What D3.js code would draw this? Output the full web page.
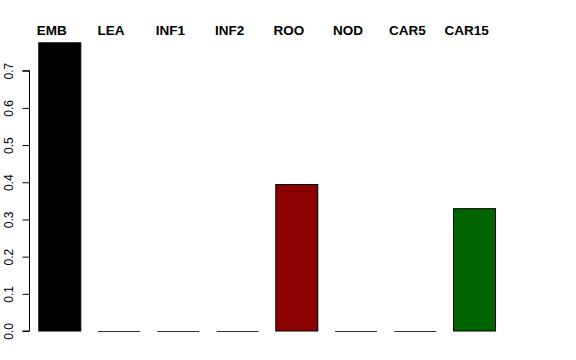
<!DOCTYPE html>
<html><head><meta charset="utf-8">
<script src="https://cdn.jsdelivr.net/npm/d3@7"></script>
<style>body{margin:0;background:#fff}svg{display:block}</style>
</head><body><svg id="c" width="576" height="360"></svg>
<script>
const categories = ["EMB","LEA","INF1","INF2","ROO","NOD","CAR5","CAR15"];
const values = [0.775, 0, 0, 0, 0.394, 0, 0, 0.329];
const colors = ["#000000","#000000","#000000","#000000","#8B0000","#000000","#000000","#006400"];
const yTicks = [0, 0.1, 0.2, 0.3, 0.4, 0.5, 0.6, 0.7];

const svg = d3.select("#c");
const x = d3.scaleBand().domain(categories).range([38.3 - 17.25/2, 38.3 - 17.25/2 + 8*59.25]).paddingInner(17.25/59.25).paddingOuter(17.25/59.25/2);
const y = d3.scaleLinear().domain([0, 0.7]).range([331, 70.7]);

const bars = svg.append("g");
bars.selectAll("rect").data(categories.filter((d,i) => values[i] > 0)).join("rect")
  .attr("x", d => x(d) + 0.5)
  .attr("y", d => y(values[categories.indexOf(d)]))
  .attr("width", x.bandwidth())
  .attr("height", d => y(0) - y(values[categories.indexOf(d)]))
  .attr("fill", d => colors[categories.indexOf(d)])
  .attr("stroke", "#000").attr("stroke-width", 1);
bars.selectAll("line").data(categories.filter((d,i) => values[i] === 0)).join("line")
  .attr("x1", d => x(d) + 0.5).attr("x2", d => x(d) + 0.5 + x.bandwidth())
  .attr("y1", y(0) + 0.5).attr("y2", y(0) + 0.5)
  .attr("stroke", "#333").attr("stroke-width", 1);

const ax = d3.axisLeft(y).tickValues(yTicks).tickSize(7).tickFormat(d3.format(".1f"));
const g = svg.append("g").attr("transform", "translate(29.5,0)").call(ax);
g.select(".domain").attr("d", `M-7,${y(0)}H0V${y(0.7)}H-7`).attr("stroke","#000");
g.selectAll(".tick line").attr("stroke","#000");
g.selectAll(".tick text")
  .attr("font-family","Liberation Sans, Arial, sans-serif").attr("font-size", 12).attr("fill","#000")
  .attr("transform", "rotate(-90)").attr("x", 0).attr("y", -16.5).attr("dy", 0)
  .attr("text-anchor","middle");

svg.append("g").selectAll("text").data(categories).join("text")
  .attr("x", d => x(d) + x.bandwidth()/2 - 7.5)
  .attr("y", 34.5)
  .attr("text-anchor","middle")
  .attr("font-family","Liberation Sans, Arial, sans-serif").attr("font-weight","bold").attr("font-size", 13.5)
  .text(d => d);
</script></body></html>
